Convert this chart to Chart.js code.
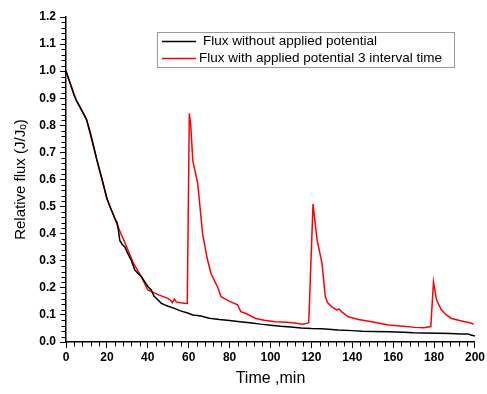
<!DOCTYPE html>
<html>
<head>
<meta charset="utf-8">
<script src="https://cdn.jsdelivr.net/npm/chart.js@4/dist/chart.umd.min.js"></script>
<style>
  html, body { margin: 0; padding: 0; background: #fff; }
  #wrap { width: 487px; height: 394px; }
</style>
</head>
<body>
<div id="wrap"><canvas id="flux-chart" width="487" height="394"></canvas></div>
<script>
const legendLabels = ["Flux without applied potential", "Flux with applied potential 3 interval time"];

const timeNoPotential = [0, 2, 4, 5, 7, 10, 12, 15, 18, 20, 22, 24, 25, 25.5, 26.3, 27.5, 28.7, 30, 32, 33.6, 35, 36.8, 38, 40, 41.7, 43, 45, 46.6, 48, 50, 53, 56, 59.5, 62, 66, 70, 75, 80, 85, 91, 95, 100, 105, 110, 115, 120, 125, 130, 133, 140, 145, 150, 157.7, 165, 170, 175, 182, 188, 193, 196.6, 198, 200];
const fluxNoPotential = [1.0, 0.955, 0.91, 0.893, 0.865, 0.822, 0.77, 0.675, 0.59, 0.53, 0.49, 0.455, 0.44, 0.42, 0.375, 0.36, 0.352, 0.33, 0.30, 0.266, 0.255, 0.242, 0.228, 0.205, 0.192, 0.17, 0.155, 0.143, 0.138, 0.132, 0.124, 0.115, 0.107, 0.1, 0.096, 0.088, 0.083, 0.079, 0.075, 0.07, 0.066, 0.062, 0.058, 0.055, 0.052, 0.05, 0.049, 0.046, 0.044, 0.042, 0.04, 0.039, 0.038, 0.036, 0.034, 0.033, 0.032, 0.031, 0.03, 0.03, 0.026, 0.022];

const timeWithPotential = [0, 5, 10, 15, 20, 26.3, 30, 33, 36.8, 40, 45, 49.8, 51, 52, 53, 54, 56, 58, 59.3, 60.3, 61, 62, 64.4, 66.8, 69, 70.9, 73, 74.1, 75.8, 78, 80, 83.9, 85.5, 88, 92.8, 97, 102.5, 108, 112, 115.5, 117, 118.7, 120.8, 122.8, 125.2, 126.8, 128, 130, 132.5, 133.5, 135, 138, 143, 149.5, 157.7, 165, 170.6, 175, 178.4, 179.7, 181.2, 183.6, 186, 188.5, 192, 195, 197, 199.5];
const fluxWithPotential = [1.0, 0.893, 0.822, 0.675, 0.53, 0.41, 0.345, 0.29, 0.241, 0.192, 0.175, 0.161, 0.155, 0.145, 0.158, 0.148, 0.145, 0.143, 0.142, 0.844, 0.80, 0.67, 0.586, 0.40, 0.31, 0.253, 0.22, 0.204, 0.167, 0.158, 0.15, 0.137, 0.112, 0.105, 0.087, 0.08, 0.075, 0.073, 0.07, 0.066, 0.067, 0.071, 0.509, 0.376, 0.29, 0.167, 0.145, 0.13, 0.118, 0.122, 0.11, 0.093, 0.083, 0.075, 0.063, 0.058, 0.054, 0.053, 0.057, 0.222, 0.155, 0.118, 0.1, 0.087, 0.08, 0.075, 0.072, 0.066];

const toPoints = (xs, ys) => xs.map((x, i) => ({ x: x, y: ys[i] }));

// small minor ticks and the boxed legend
const extras = {
  id: "extras",
  afterDraw(chart) {
    const c = chart.ctx;
    const xs = chart.scales.x;
    const ys = chart.scales.y;
    const area = chart.chartArea;
    c.save();
    c.strokeStyle = "#000";
    c.lineWidth = 1;
    c.beginPath();
    for (let v = 0; v <= 200; v += 4) {
      if (v % 20 === 0) continue;
      const px = Math.round(xs.getPixelForValue(v)) + 0.5;
      c.moveTo(px, area.bottom);
      c.lineTo(px, area.bottom + 4.5);
    }
    for (let k = 0; k <= 60; k++) {
      if (k % 5 === 0) continue;
      const py = Math.round(ys.getPixelForValue(k * 0.02)) + 0.5;
      c.moveTo(area.left, py);
      c.lineTo(area.left - 4.5, py);
    }
    c.stroke();

    // legend
    c.strokeStyle = "#999";
    c.lineWidth = 1;
    c.strokeRect(157.5, 32.5, 297, 35);
    c.font = "13.5px 'Liberation Sans', Arial, sans-serif";
    c.textBaseline = "middle";
    c.fillStyle = "#000";
    c.lineWidth = 1.5;
    c.strokeStyle = "#000";
    c.beginPath(); c.moveTo(162, 41.5); c.lineTo(196, 41.5); c.stroke();
    c.fillText(legendLabels[0], 203, 41);
    c.strokeStyle = "#ff0000";
    c.beginPath(); c.moveTo(162, 58.5); c.lineTo(196, 58.5); c.stroke();
    c.fillText(legendLabels[1], 199, 58);
    c.restore();
  }
};

new Chart(document.getElementById("flux-chart"), {
  type: "scatter",
  data: {
    datasets: [
      {
        label: legendLabels[0],
        data: toPoints(timeNoPotential, fluxNoPotential),
        showLine: true,
        borderColor: "#000",
        borderWidth: 1.5,
        pointRadius: 0,
        tension: 0
      },
      {
        label: legendLabels[1],
        data: toPoints(timeWithPotential, fluxWithPotential),
        showLine: true,
        borderColor: "#ff0000",
        borderWidth: 1.5,
        pointRadius: 0,
        tension: 0
      }
    ]
  },
  options: {
    responsive: false,
    animation: false,
    layout: { padding: { top: 17, right: 10, left: 0, bottom: 0 } },
    plugins: {
      legend: { display: false },
      tooltip: { enabled: false }
    },
    scales: {
      x: {
        type: "linear",
        min: 0,
        max: 200,
        afterFit: (s) => { s.height = 52; },
        ticks: {
          stepSize: 20,
          color: "#000",
          padding: 2,
          maxRotation: 0,
          font: { family: "'Liberation Sans', Arial, sans-serif", size: 12, weight: "bold" }
        },
        grid: { drawOnChartArea: false, drawTicks: true, tickLength: 6, color: "#000", tickWidth: 1 },
        border: { color: "#000", width: 1.5 },
        title: {
          display: true,
          text: "Time ,min",
          color: "#000",
          padding: { top: 0, bottom: 6 },
          font: { family: "'Liberation Sans', Arial, sans-serif", size: 16 }
        }
      },
      y: {
        min: 0,
        max: 1.2,
        afterFit: (s) => { s.width = 66; },
        ticks: {
          stepSize: 0.1,
          color: "#000",
          padding: 4,
          callback: (v) => v.toFixed(1),
          font: { family: "'Liberation Sans', Arial, sans-serif", size: 12, weight: "bold" }
        },
        grid: { drawOnChartArea: false, drawTicks: true, tickLength: 6, color: "#000", tickWidth: 1 },
        border: { color: "#000", width: 1.5 },
        title: {
          display: true,
          text: "Relative flux (J/J\u2092)",
          color: "#000",
          padding: { top: 12, bottom: 0 },
          font: { family: "'Liberation Sans', 'DejaVu Sans', Arial, sans-serif", size: 15 }
        }
      }
    }
  },
  plugins: [extras]
});
</script>
</body>
</html>
